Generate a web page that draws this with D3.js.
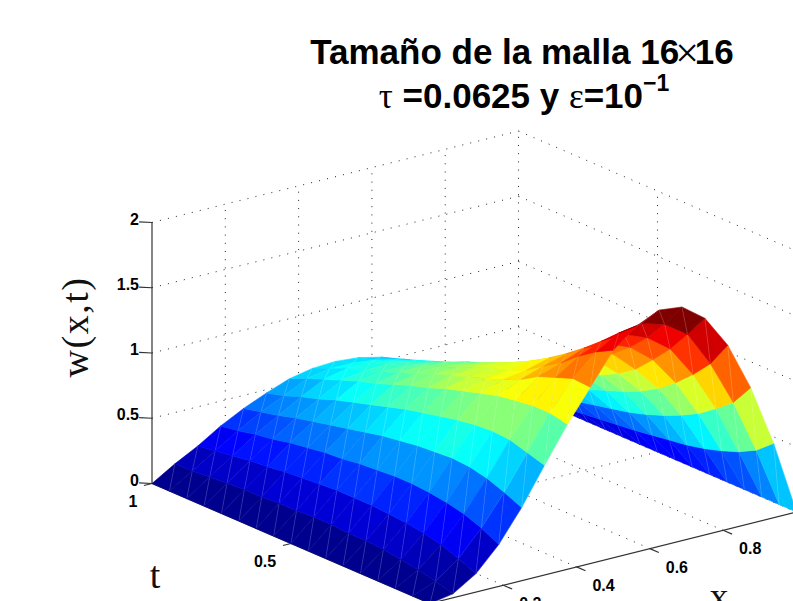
<!DOCTYPE html>
<html lang="en">
<head>
<meta charset="utf-8">
<title>Tamaño de la malla 16x16</title>
<script src="https://d3js.org/d3.v7.min.js"></script>
<style>
  body { margin: 0; background: #fff; }
  svg { display: block; overflow: hidden; }
  .tick-label { font: bold 16px "Liberation Sans", Arial, sans-serif; fill: #000; }
  .title { font: bold 35px "Liberation Sans", Arial, sans-serif; fill: #000; text-anchor: middle; }
  .sym { font-family: "Liberation Serif", serif; font-weight: normal; }
  .axis-label { font: 38px "Liberation Serif", serif; fill: #111; text-anchor: middle; }
</style>
</head>
<body>
<script>
// w, one row per x step (x = 0 .. 1), each row t = 0 .. 1
var xValues = d3.range(17).map(function(i) { return i / 16; });
var tValues = d3.range(17).map(function(j) { return j / 16; });
var wValues = [
  [0,0,0,0,0,0,0,0,0,0,0,0,0,0,0,0,0],
  [.03,.07,.10,.12,.14,.15,.15,.16,.16,.15,.15,.14,.14,.13,.12,.11,.107],
  [.14,.20,.25,.28,.30,.31,.32,.32,.32,.31,.30,.29,.27,.26,.24,.22,.20],
  [.32,.39,.44,.47,.49,.50,.50,.49,.48,.46,.45,.43,.41,.38,.36,.33,.31],
  [.56,.62,.67,.70,.71,.70,.69,.67,.65,.62,.59,.56,.53,.50,.46,.43,.40],
  [.84,.88,.92,.93,.92,.90,.87,.84,.81,.77,.73,.69,.65,.60,.56,.51,.475],
  [1.11,1.14,1.14,1.12,1.10,1.06,1.02,.98,.93,.89,.84,.79,.75,.70,.65,.60,.54],
  [1.35,1.36,1.31,1.26,1.18,1.12,1.07,1.03,.98,.93,.88,.83,.78,.73,.69,.63,.575],
  [1.59,1.52,1.43,1.32,1.24,1.15,1.09,1.05,1.00,.94,.89,.84,.78,.74,.69,.63,.585],
  [1.73,1.62,1.50,1.39,1.29,1.20,1.12,1.05,.99,.93,.87,.82,.76,.71,.66,.61,.57],
  [1.81,1.65,1.51,1.38,1.27,1.17,1.09,1.02,.95,.89,.83,.78,.72,.67,.62,.57,.53],
  [1.79,1.60,1.44,1.31,1.20,1.10,1.02,.95,.88,.82,.77,.71,.66,.61,.56,.51,.47],
  [1.66,1.48,1.31,1.17,1.04,.95,.88,.82,.76,.70,.65,.60,.56,.51,.47,.43,.39],
  [1.41,1.21,1.07,.95,.85,.77,.71,.66,.61,.57,.53,.49,.45,.41,.37,.33,.30],
  [1.04,.87,.765,.67,.60,.54,.49,.45,.42,.39,.36,.34,.31,.28,.26,.23,.20],
  [.57,.46,.39,.34,.30,.27,.25,.23,.21,.195,.18,.165,.15,.135,.125,.11,.10],
  [0,0,0,0,0,0,0,0,0,0,0,0,0,0,0,0,0]
];
var xTicks = [0.2, 0.4, 0.6, 0.8];
var tTicks = [0.5, 1];
var wTicks = [0, 0.5, 1, 1.5, 2];

var width = 793, height = 601;

// oblique projection, each axis adds its own screen offset
var xToX = d3.scaleLinear().domain([0, 1]).range([0, 366.5]);
var xToY = d3.scaleLinear().domain([0, 1]).range([0, -91.5]);
var tToX = d3.scaleLinear().domain([0, 1]).range([0, -278]);
var tToY = d3.scaleLinear().domain([0, 1]).range([0, -120]);
var wToY = d3.scaleLinear().domain([0, 2]).range([0, -261]);
var originX = 430, originY = 603.5;

function px(x, t) { return originX + xToX(x) + tToX(t); }
function py(x, t, w) { return originY + xToY(x) + tToY(t) + wToY(w); }
function depth(x, t, w) { return 278 * x + 366 * t - 530 * w; }

// jet colormap, 64 steps
var jetBase = d3.scaleLinear()
  .domain([0, 0.125, 0.375, 0.625, 0.875, 1])
  .range(["#00008f", "#0000ff", "#00ffff", "#ffff00", "#ff0000", "#800000"]);
var wMax = d3.max(wValues, function(r) { return d3.max(r); });
var jet = d3.scaleQuantize().domain([0, wMax])
  .range(d3.range(64).map(function(i) { return jetBase(i / 63); }));

var svg = d3.select("body").append("svg").attr("width", width).attr("height", height);

function segment(g, a, b) {
  return g.append("line")
    .attr("x1", px(a[0], a[1])).attr("y1", py(a[0], a[1], a[2]))
    .attr("x2", px(b[0], b[1])).attr("y2", py(b[0], b[1], b[2]));
}

// dotted grid on the two back walls and the floor
var grid = svg.append("g").attr("stroke", "#222").attr("stroke-width", 1)
  .attr("stroke-dasharray", "1 7.2").attr("fill", "none");
wTicks.forEach(function(w) {
  segment(grid, [0, 1, w], [1, 1, w]);
  segment(grid, [1, 1, w], [1, 0, w]);
});
xTicks.concat([1]).forEach(function(x) {
  segment(grid, [x, 1, 0], [x, 1, 2]);
  segment(grid, [x, 0, 0], [x, 1, 0]);
});
segment(grid, [1, 0.5, 0], [1, 0.5, 2]);
segment(grid, [0, 0.5, 0], [1, 0.5, 0]);

// axes
var axes = svg.append("g").attr("stroke", "#333").attr("stroke-width", 1.2).attr("fill", "none");
segment(axes, [0, 1, 0], [0, 1, 2]);
segment(axes, [0, 0, 0], [0, 1, 0]);
segment(axes, [0, 0, 0], [1, 0, 0]);
wTicks.forEach(function(w) { segment(axes, [0, 1, w], [-0.02, 1.02, w]); });
xTicks.forEach(function(x) { segment(axes, [x, 0, 0], [x, -0.032, 0]); });
tTicks.forEach(function(t) { segment(axes, [0, t, 0], [-0.022, t, 0]); });

// surface: two triangles per cell, coloured by the cell's first corner, far cells first
var cells = [];
d3.range(16).forEach(function(i) {
  d3.range(16).forEach(function(j) {
    var corner = function(a, b) { return [xValues[i + a], tValues[j + b], wValues[i + a][j + b]]; };
    var p00 = corner(0, 0), p10 = corner(1, 0), p01 = corner(0, 1), p11 = corner(1, 1);
    cells.push({
      color: jet(p00[2]),
      depth: d3.mean([p00, p10, p01, p11], function(p) { return depth(p[0], p[1], p[2]); }),
      tris: [[p00, p10, p11], [p00, p01, p11]],
      seams: [[p00, p11], [p00, p10]]
    });
  });
});
cells.sort(function(a, b) { return b.depth - a.depth; });

var tri = d3.line()
  .x(function(p) { return px(p[0], p[1]); })
  .y(function(p) { return py(p[0], p[1], p[2]); });

var cell = svg.append("g").selectAll("g")
  .data(cells)
  .enter().append("g");

cell.selectAll("path.face")
  .data(function(d) { return d.tris.map(function(t) { return {pts: t, color: d.color}; }); })
  .enter().append("path")
  .attr("class", "face")
  .attr("d", function(d) { return tri(d.pts) + "Z"; })
  .attr("fill", function(d) { return d.color; })
  .attr("stroke", function(d) { return d.color; })
  .attr("stroke-width", 0.6)
  .attr("stroke-linejoin", "round");

// the thin pale lines left between the triangles
cell.selectAll("path.seam")
  .data(function(d) { return d.seams; })
  .enter().append("path")
  .attr("class", "seam")
  .attr("d", function(d) { return tri(d); })
  .attr("fill", "none")
  .attr("stroke", "#fff")
  .attr("stroke-width", 0.5)
  .attr("stroke-opacity", function(d, i) { return i ? 0.13 : 0.3; });

// tick labels
function label(txt, x, y, anchor) {
  svg.append("text").attr("class", "tick-label").attr("x", x).attr("y", y)
    .attr("text-anchor", anchor || "middle").text(txt);
}
wTicks.forEach(function(w) { label(String(w), px(0, 1) - 13, py(0, 1, w) + 2, "end"); });
xTicks.forEach(function(x) { label(String(x), px(x, 0) + 27, py(x, 0, 0) + 24); });
label("0.5", px(0, 0.5) - 26, py(0, 0.5, 0) + 23);
label("1", px(0, 1) - 19, py(0, 1, 0) + 23);

// title
var line1 = svg.append("text").attr("class", "title").attr("x", 522).attr("y", 64);
line1.append("tspan").text("Tamaño de la malla 16");
line1.append("tspan").attr("class", "sym").attr("dx", -4).attr("dy", 3).style("font-size", "42px").text("×");
line1.append("tspan").attr("dx", -4).attr("dy", -3).text("16");
var line2 = svg.append("text").attr("class", "title").attr("x", 524).attr("y", 108);
line2.append("tspan").attr("class", "sym").text("τ");
line2.append("tspan").text(" =0.0625 y ");
line2.append("tspan").attr("class", "sym").text("ε");
line2.append("tspan").text("=10");
line2.append("tspan").attr("dy", -17).style("font-size", "23px").text("−1");

// axis labels
svg.append("text").attr("class", "axis-label").style("letter-spacing", "1.5px")
  .attr("transform", "translate(88,327) rotate(-90)").text("w(x,t)");
svg.append("text").attr("class", "axis-label").attr("x", 155).attr("y", 588).text("t");
svg.append("text").attr("class", "axis-label").attr("x", 719).attr("y", 609).text("x");
</script>
</body>
</html>
